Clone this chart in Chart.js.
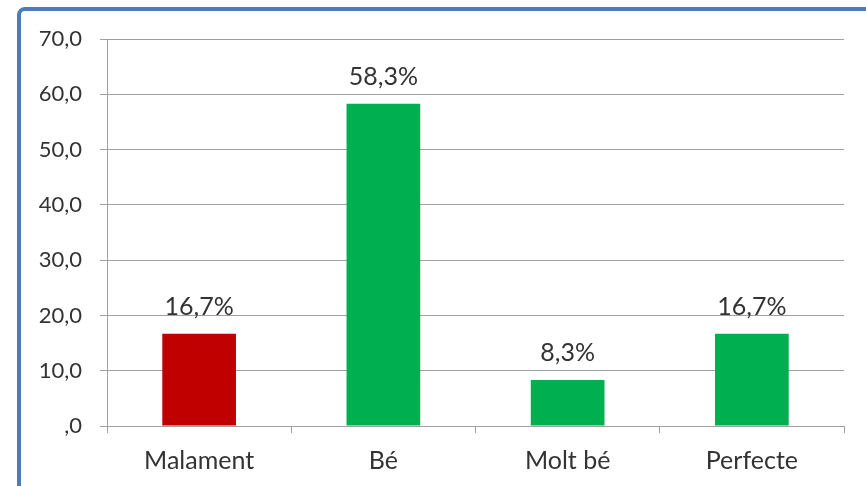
<!DOCTYPE html>
<html lang="ca">
<head>
    <meta charset="UTF-8">
    <title>Valoració</title>
    <script src="https://cdn.jsdelivr.net/npm/chart.js"></script>
    <style>
        html, body { margin: 0; padding: 0; background: #fff; }
        #wrap { width: 866px; height: 486px; }
    </style>
</head>
<body>
    <div id="wrap"><canvas id="grafic" width="866" height="486"></canvas></div>

    <script>
        // dades del gràfic
        const categories = ['Malament', 'Bé', 'Molt bé', 'Perfecte'];
        const valors = [16.7, 58.3, 8.3, 16.7];
        const colors = ['#C00000', '#00B050', '#00B050', '#00B050'];
        const yTicks = [0, 10, 20, 30, 40, 50, 60, 70];

        const textColor = '#333333';
        const gridColor = '#A0A0A0';
        const fontFamily = 'Lato, "Open Sans", sans-serif';

        function fmt(v) {
            if (v === 0) return ',0';
            return v.toFixed(1).replace('.', ',');
        }

        // marc blau de la gràfica
        const marc = {
            id: 'marc',
            beforeDraw(chart) {
                const c = chart.ctx;
                c.save();
                c.strokeStyle = '#4A7EBB';
                c.lineWidth = 4;
                c.beginPath();
                c.roundRect(19, 9, 920, 600, 6);
                c.stroke();
                c.restore();
            }
        };

        // etiquetes de valor sobre les barres
        const etiquetes = {
            id: 'etiquetes',
            afterDatasetsDraw(chart) {
                const c = chart.ctx;
                const meta = chart.getDatasetMeta(0);
                c.save();
                c.fillStyle = textColor;
                c.font = '25px ' + fontFamily;
                c.textAlign = 'center';
                c.textBaseline = 'alphabetic';
                meta.data.forEach(function(bar, i) {
                    c.fillText(fmt(valors[i]) + '%', bar.x, bar.y - 19);
                });
                c.restore();
            }
        };

        new Chart(document.getElementById('grafic'), {
            type: 'bar',
            data: {
                labels: categories,
                datasets: [{
                    data: valors,
                    backgroundColor: colors,
                    borderWidth: 0,
                    barPercentage: 1,
                    categoryPercentage: 0.4
                }]
            },
            options: {
                responsive: false,
                animation: false,
                layout: { padding: { top: 39, right: 22, left: 0, bottom: 0 } },
                plugins: {
                    legend: { display: false },
                    tooltip: { enabled: false }
                },
                scales: {
                    x: {
                        grid: { drawOnChartArea: false, drawTicks: true, tickLength: 7, color: gridColor, offset: true },
                        border: { color: gridColor, width: 1 },
                        ticks: { color: textColor, font: { family: fontFamily, size: 25 }, padding: 13 },
                        afterFit(scale) { scale.height = 60; }
                    },
                    y: {
                        min: 0,
                        max: 70,
                        afterBuildTicks(scale) {
                            scale.ticks = yTicks.map(v => ({ value: v }));
                        },
                        grid: { color: gridColor, tickLength: 7, lineWidth: 1 },
                        border: { color: gridColor, width: 1 },
                        ticks: {
                            color: textColor,
                            font: { family: fontFamily, size: 22 },
                            padding: 18,
                            callback: v => fmt(v)
                        },
                        afterFit(scale) { scale.width = 107; }
                    }
                }
            },
            plugins: [marc, etiquetes]
        });
    </script>
</body>
</html>
